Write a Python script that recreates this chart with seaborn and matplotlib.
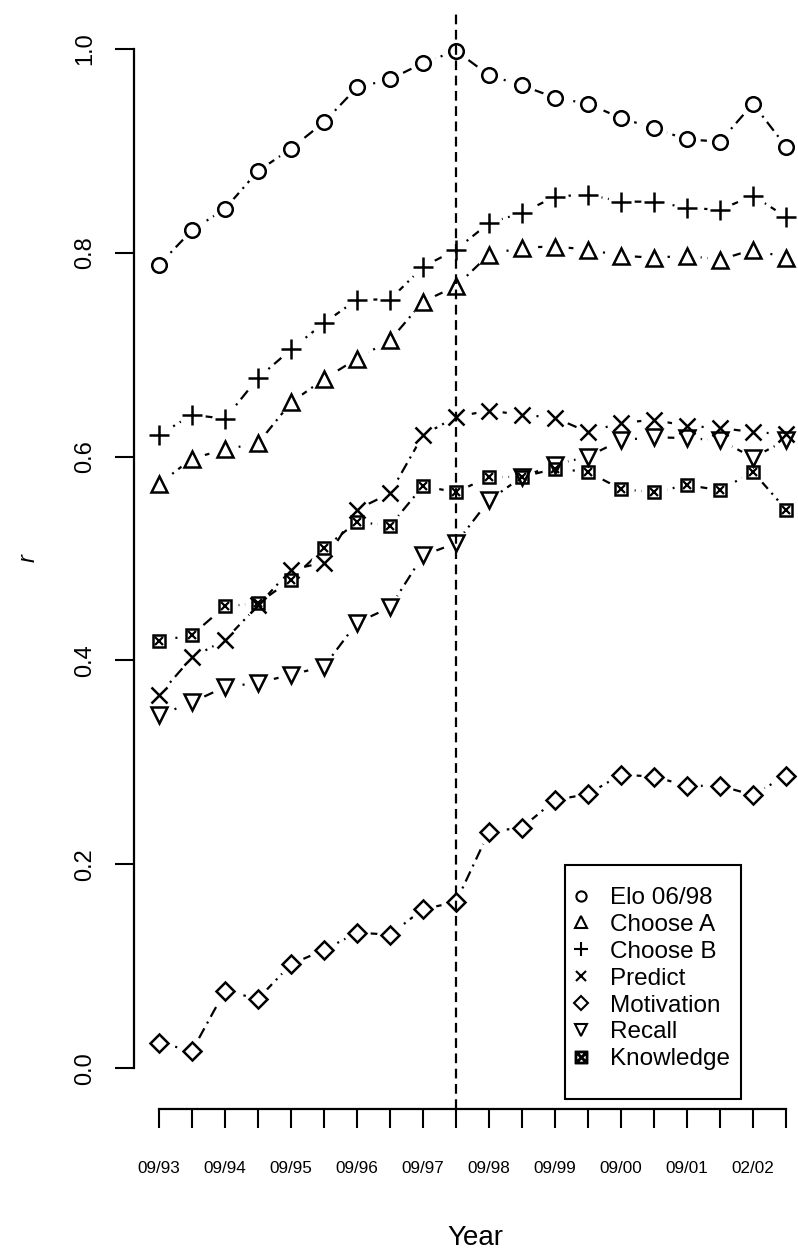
import matplotlib
matplotlib.use("Agg")
import matplotlib.pyplot as plt
import seaborn as sns
import numpy as np
import pandas as pd
from matplotlib.lines import Line2D
from matplotlib.patches import Rectangle

# ---------------- data ----------------
tick_labels = ["09/93", "", "09/94", "", "09/95", "", "09/96", "", "09/97", "",
               "09/98", "", "09/99", "", "09/00", "", "09/01", "", "02/02", ""]
periods = list(range(20))

elo = [0.788, 0.822, 0.843, 0.880, 0.902, 0.928, 0.962, 0.970, 0.986, 0.998,
       0.974, 0.964, 0.952, 0.946, 0.932, 0.922, 0.911, 0.909, 0.946, 0.904]
choose_a = [0.573, 0.598, 0.607, 0.613, 0.653, 0.676, 0.696, 0.714, 0.752, 0.767,
            0.798, 0.805, 0.806, 0.803, 0.797, 0.795, 0.797, 0.793, 0.803, 0.795]
choose_b = [0.621, 0.641, 0.637, 0.677, 0.705, 0.731, 0.754, 0.754, 0.786, 0.803,
            0.829, 0.839, 0.855, 0.857, 0.850, 0.850, 0.844, 0.842, 0.856, 0.835]
predict = [0.366, 0.403, 0.420, 0.454, 0.489, 0.496, 0.548, 0.564, 0.621, 0.639,
           0.645, 0.641, 0.638, 0.624, 0.633, 0.636, 0.630, 0.628, 0.624, 0.622]
motivation = [0.025, 0.017, 0.076, 0.068, 0.102, 0.116, 0.133, 0.131, 0.156, 0.163,
              0.232, 0.236, 0.263, 0.269, 0.288, 0.286, 0.277, 0.277, 0.268, 0.287]
recall = [0.346, 0.359, 0.374, 0.378, 0.386, 0.394, 0.437, 0.452, 0.503, 0.515,
          0.557, 0.580, 0.592, 0.600, 0.616, 0.619, 0.618, 0.616, 0.599, 0.616]
knowledge = [0.419, 0.425, 0.453, 0.456, 0.479, 0.510, 0.536, 0.532, 0.571, 0.565,
             0.580, 0.580, 0.588, 0.585, 0.568, 0.565, 0.572, 0.567, 0.585, 0.548]

series_names = ["Elo 06/98", "Choose A", "Choose B", "Predict", "Motivation", "Recall", "Knowledge"]
series_values = [elo, choose_a, choose_b, predict, motivation, recall, knowledge]
series_markers = ["o", "^", "+", "x", "D", "v", "s"]
marker_sizes = [10.5, 11.5, 14, 11, 9.5, 11.5, 9]

y_ticks = [0.0, 0.2, 0.4, 0.6, 0.8, 1.0]
y_tick_labels = ["0.0", "0.2", "0.4", "0.6", "0.8", "1.0"]
split_period = 9

# ---------------- style ----------------
sns.set_theme(style="white")
plt.rcParams["font.family"] = ["Liberation Sans", "DejaVu Sans"]
plt.rcParams["lines.scale_dashes"] = False
plt.rcParams["text.color"] = "black"
plt.rcParams["axes.labelcolor"] = "black"
plt.rcParams["xtick.color"] = "black"
plt.rcParams["ytick.color"] = "black"

W, H = 798, 1249
fig = plt.figure(figsize=(W / 100, H / 100), dpi=100)
fig.patch.set_facecolor("white")

# axes geometry (pixels)
px_per_unit = 33.0
x0_px = 159.0
xl = (-0.76, 19.76)
left_px = x0_px + xl[0] * px_per_unit
right_px = x0_px + xl[1] * px_per_unit
yl = (-0.040, 1.038)
bottom_px = 1109.0
top_px = 10.0
ax = fig.add_axes([left_px / W, 1 - bottom_px / H,
                   (right_px - left_px) / W, (bottom_px - top_px) / H])
ax.set_facecolor("white")
ax.set_xlim(*xl)
ax.set_ylim(*yl)

lw = 1.6
dashdot = (0, (8, 4, 1.5, 4))

df = pd.DataFrame({"period": periods})
for name, vals in zip(series_names, series_values):
    df[name] = vals

# lines
for name in series_names:
    sns.lineplot(data=df, x="period", y=name, ax=ax, color="black",
                 linewidth=lw, linestyle=dashdot, zorder=2)
# white halos to make type="b" gaps
for name in series_names:
    sns.lineplot(data=df, x="period", y=name, ax=ax, color="white",
                 linestyle="none", marker="o", markersize=19,
                 markerfacecolor="white", markeredgecolor="white",
                 markeredgewidth=0, zorder=3)

# vertical dashed line
ax.axvline(split_period, color="black", linewidth=1.6,
           linestyle=(0, (7, 4)), zorder=4)

# markers
for name, m, ms in zip(series_names, series_markers, marker_sizes):
    sns.lineplot(data=df, x="period", y=name, ax=ax, linestyle="none",
                 marker=m, markersize=ms, markerfacecolor="none",
                 markeredgecolor="black", markeredgewidth=1.8, zorder=5)
    if m == "s":
        sns.lineplot(data=df, x="period", y=name, ax=ax, linestyle="none",
                     marker="x", markersize=ms * 0.6, markerfacecolor="none",
                     markeredgecolor="black", markeredgewidth=1.6, zorder=5)

# axes styling (R-like)
for s in ["top", "right"]:
    ax.spines[s].set_visible(False)
ax.spines["left"].set_bounds(0, 1)
ax.spines["bottom"].set_bounds(0, 19)
for s in ["left", "bottom"]:
    ax.spines[s].set_linewidth(1.6)
    ax.spines[s].set_color("black")

ax.set_xticks(periods)
ax.set_xticklabels(tick_labels, fontsize=12.3)
ax.set_yticks(y_ticks)
ax.set_yticklabels(y_tick_labels, fontsize=17, rotation=90, va="center")
ax.tick_params(axis="x", bottom=True, direction="out", length=13.5, width=1.5,
               color="black", pad=24, labelcolor="black")
ax.tick_params(axis="y", left=True, direction="out", length=13.5, width=1.5,
               color="black", pad=13.4, labelcolor="black")
ax.set_xlabel("")
ax.set_ylabel("")
ax.grid(False)

fig.text(28 / W, 1 - 558 / H, "r", rotation=90, fontsize=17, style="italic",
         ha="center", va="center", color="black")
fig.text(475 / W, 1 - 1245 / H, "Year", fontsize=20, ha="center", va="baseline",
         color="black")

# legend
handles = []
for name, m, ms in zip(series_names, series_markers, marker_sizes):
    if m == "s":
        h = Line2D([], [], linestyle="none", marker="$\\boxtimes$", markersize=9,
                   color="black")
    else:
        h = Line2D([], [], linestyle="none", marker=m, markersize=ms * 0.7,
                   markerfacecolor="none", markeredgecolor="black",
                   markeredgewidth=1.5)
    handles.append(h)
leg_left_px, leg_top_px = 565, 865
pad_x_px, pad_top_px, pad_bottom_px = 11, 22, 29
leg = fig.legend(handles, series_names, loc="upper left",
                 bbox_to_anchor=((leg_left_px + pad_x_px) / W, 1 - (leg_top_px + pad_top_px) / H),
                 fontsize=17.5, frameon=False, borderpad=0, labelspacing=0.2,
                 handlelength=0.45, handletextpad=0.95, borderaxespad=0,
                 labelcolor="black")

# frame around legend (R-style box), sized from the legend's extent
fig.canvas.draw()
bb = leg.get_window_extent()
fig.add_artist(Rectangle(((bb.x0 - pad_x_px) / W, (bb.y0 - pad_bottom_px) / H),
                         (bb.width + 2 * pad_x_px) / W,
                         (bb.height + pad_top_px + pad_bottom_px) / H,
                         transform=fig.transFigure, fill=False,
                         edgecolor="black", linewidth=1.5))

fig.savefig("out.png", dpi=100, facecolor="white")
